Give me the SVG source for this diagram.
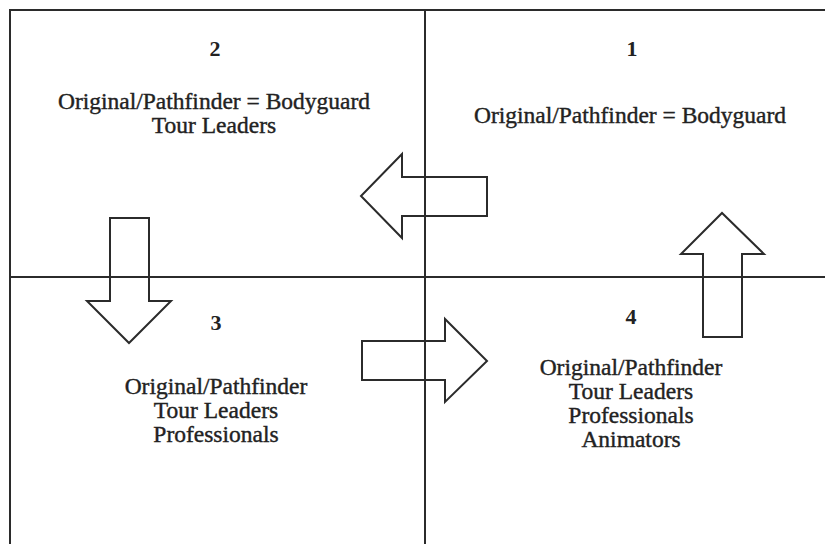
<svg xmlns="http://www.w3.org/2000/svg" width="825" height="544" viewBox="0 0 825 544">
<style>
.ln{stroke:#2b2b2b;stroke-width:2;fill:none}
.ar{stroke:#2b2b2b;stroke-width:2;fill:none;stroke-linejoin:miter}
.t{font-family:"Liberation Serif","Times New Roman",serif;font-size:23.5px;fill:#222;stroke:#222;stroke-width:0.4;text-anchor:middle}
.n{font-family:"Liberation Serif","Times New Roman",serif;font-size:22px;font-weight:bold;fill:#222;text-anchor:middle}
</style>
<rect width="825" height="544" fill="#fff"/>
<g id="frame">
<line class="ln" x1="9" y1="10" x2="825" y2="10"/>
<line class="ln" x1="10" y1="9" x2="10" y2="544"/>
<line class="ln" x1="425" y1="10" x2="425" y2="544"/>
<line class="ln" x1="10" y1="277" x2="825" y2="277"/>
</g>
<g id="q1">
<text class="n" x="632" y="56">1</text>
<text class="t" x="630" y="123">Original/Pathfinder = Bodyguard</text>
</g>
<g id="q2">
<text class="n" x="215" y="56">2</text>
<text class="t" x="214" y="109">Original/Pathfinder = Bodyguard</text>
<text class="t" x="214" y="133">Tour Leaders</text>
</g>
<g id="q3">
<text class="n" x="216" y="330">3</text>
<text class="t" x="216" y="394">Original/Pathfinder</text>
<text class="t" x="216" y="418">Tour Leaders</text>
<text class="t" x="216" y="442">Professionals</text>
</g>
<g id="q4">
<text class="n" x="631" y="324">4</text>
<text class="t" x="631" y="375">Original/Pathfinder</text>
<text class="t" x="631" y="399">Tour Leaders</text>
<text class="t" x="631" y="423">Professionals</text>
<text class="t" x="631" y="447">Animators</text>
</g>
<g id="connectors">
<polygon class="ar" points="487,177 402,177 402,154 361,196 402,238 402,216 487,216"/>
<polygon class="ar" points="110,218 149,218 149,301 171,301 129,343 87,301 110,301"/>
<polygon class="ar" points="362,341 445,341 445,319 487,361 445,402 445,380 362,380"/>
<polygon class="ar" points="703,337 742,337 742,254 764,254 722,213 681,254 703,254"/>
</g>
</svg>
